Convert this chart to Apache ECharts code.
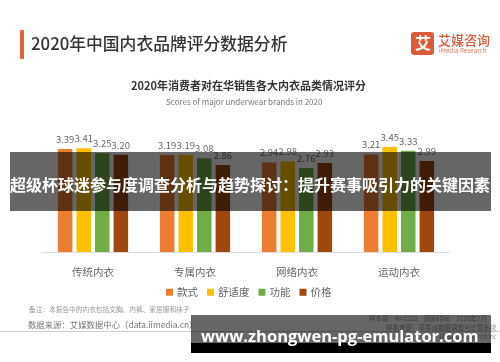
<!DOCTYPE html>
<html><head><meta charset="utf-8">
<style>html,body{margin:0;padding:0;background:#fff}#c{width:500px;height:362px;filter:blur(0.4px)}</style>
<script src="https://cdn.jsdelivr.net/npm/echarts@6/dist/echarts.min.js"></script>
</head><body><div id="c"></div>
<script>
const categories = ['传统内衣','专属内衣','网络内衣','运动内衣'];
const seriesNames = ['款式','舒适度','功能','价格'];
const style = [3.39,3.19,2.94,3.21];
const comfort = [3.41,3.19,2.98,3.45];
const feature = [3.25,3.08,2.76,3.33];
const price = [3.20,2.86,2.93,2.99];
const colors = ['#ED7D31','#FFC000','#70AD47','#9E480E'];
const values = [style,comfort,feature,price];
const F = '"Noto Sans CJK SC","Noto Sans",sans-serif';
const t = (x,y,text,fontSize,fill,extra,z) => ({type:'text',x,y,z:z||5,style:Object.assign({text,fontSize,fill,fontFamily:F,verticalAlign:'middle'},extra||{})});
const chart = echarts.init(document.getElementById('c'),null,{renderer:'canvas'});
chart.setOption({
  animation:false,
  color:colors,
  grid:{left:42,right:50,top:100,bottom:110},
  xAxis:{type:'category',data:categories,
    axisLine:{lineStyle:{color:'#ddd',width:1}},axisTick:{show:false},
    axisLabel:{color:'#666',fontSize:10.5,fontFamily:F,margin:15}},
  yAxis:{type:'value',min:0,max:5,show:false,splitLine:{show:false}},
  legend:{data:seriesNames,left:161,top:282,itemWidth:7,itemHeight:7,itemGap:9,icon:'rect',
    textStyle:{color:'#666',fontSize:10.5,fontFamily:F,padding:[0,0,0,-1]}},
  series:seriesNames.map((n,i)=>({name:n,type:'bar',data:values[i],barWidth:14.5,barGap:'28%',
    label:{show:true,position:'top',distance:5,color:'#666',fontSize:9.5,fontFamily:F,formatter:p=>p.value.toFixed(2)}})),
  graphic:[
    {type:'rect',z:5,shape:{x:20,y:30,width:4,height:29,r:1},style:{fill:'#E0663A'}},
    t(31,44,'2020年中国内衣品牌评分数据分析',16.8,'#333',{fontWeight:500}),
    {type:'rect',z:5,shape:{x:411,y:32,width:23,height:23,r:3},style:{fill:'#DB5B3B'}},
    t(415,43,'艾',16,'#fff',{fontWeight:700}),
    t(438,40,'艾媒咨询',13,'#DB5B3B',{fontWeight:500}),
    t(439,50.5,'iMedia Research',6.3,'#DB7B60'),
    t(131,86,'2020年消费者对在华销售各大内衣品类情况评分',11,'#333',{fontWeight:700}),
    t(166,102,'Scores of major underwear brands in 2020',8,'#777'),
    t(29,309,'备注：本报告中的内衣包括文胸、内裤、家居服和袜子',6.7,'#999'),
    t(28,325,'数据来源：艾媒数据中心（data.iimedia.cn）',8.4,'#777'),
    t(369,319,'样本量：N=1222    调研时间：2020年7月',6.5,'#999'),
    t(386,328,'样本来源：草莓派数据调查与计算系统',6.5,'#999'),
    t(440,337,'iiMedia Research Inc',6,'#999'),
    {type:'rect',z:6,shape:{x:0,y:331,width:500,height:1},style:{fill:'#ccc'}},
    {type:'rect',z:10,shape:{x:10,y:152,width:481,height:59},style:{fill:'rgba(0,0,0,0.6)'}},
    t(10,185,'超级杯球迷参与度调查分析与趋势探讨：提升赛事吸引力的关键因素',16,'#fff',{fontWeight:700},11),
    {type:'rect',z:10,shape:{x:191,y:315,width:300,height:28},style:{fill:'rgba(0,0,0,0.6)'}},
    {type:'rect',z:10,shape:{x:191,y:343,width:300,height:10},style:{fill:'#000'}},
    t(201,337,'www.zhongwen-pg-emulator.com',16.5,'#fff',{fontWeight:700,fontFamily:'"Open Sans",sans-serif'},11)
  ]
});
</script></body></html>
